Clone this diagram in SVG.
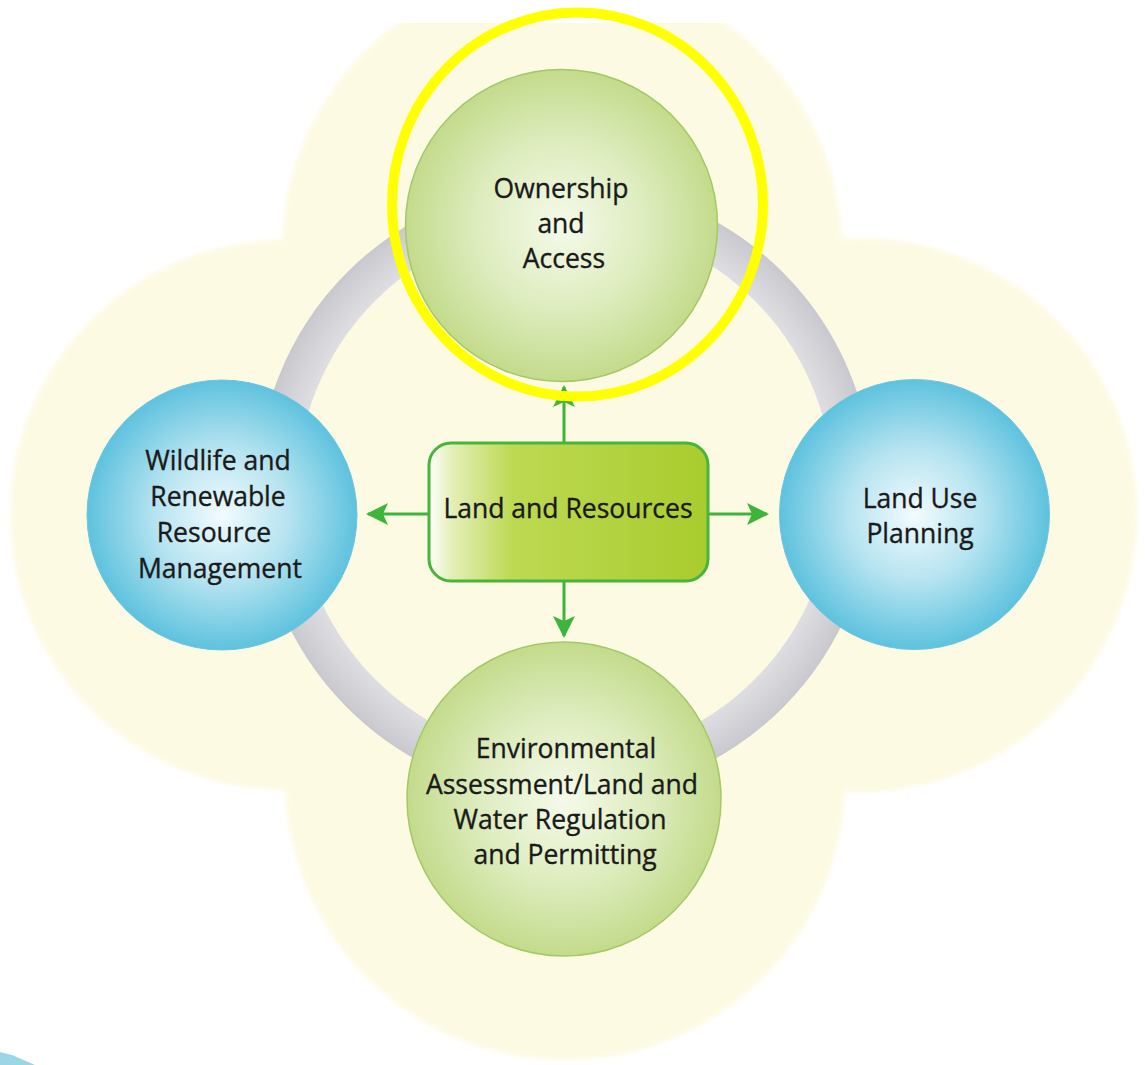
<svg xmlns="http://www.w3.org/2000/svg" width="1145" height="1065" viewBox="0 0 1145 1065">
  <defs>
    <radialGradient id="gGreen" cx="50%" cy="50%" r="50%">
      <stop offset="0" stop-color="#f5faea"/>
      <stop offset="0.55" stop-color="#ddecbd"/>
      <stop offset="1" stop-color="#c3db8c"/>
    </radialGradient>
    <radialGradient id="gBlue" cx="50%" cy="50%" r="50%">
      <stop offset="0" stop-color="#f2fbfe"/>
      <stop offset="0.5" stop-color="#b5e3f0"/>
      <stop offset="1" stop-color="#5ec2de"/>
    </radialGradient>
    <radialGradient id="gRing" gradientUnits="userSpaceOnUse" cx="565" cy="490" r="308">
      <stop offset="0.86" stop-color="#e0e0e4"/>
      <stop offset="0.93" stop-color="#d4d4d9"/>
      <stop offset="1" stop-color="#c8c8ce"/>
    </radialGradient>
    <linearGradient id="gBox" x1="0" y1="0" x2="1" y2="0">
      <stop offset="0" stop-color="#ffffff"/>
      <stop offset="0.08" stop-color="#e4efb8"/>
      <stop offset="0.3" stop-color="#bdd952"/>
      <stop offset="1" stop-color="#a9cc2e"/>
    </linearGradient>
    <clipPath id="bgClip">
      <rect x="0" y="23" width="1145" height="1042"/>
    </clipPath>
    <filter id="soft" x="-5%" y="-5%" width="110%" height="110%">
      <feGaussianBlur stdDeviation="2.5"/>
    </filter>
    <marker id="arrow" markerUnits="userSpaceOnUse" markerWidth="24" markerHeight="24" refX="20" refY="11" orient="auto">
      <path d="M0,0 L22,11 L0,22 L5,11 Z" fill="#3cb53a"/>
    </marker>
  </defs>
  <style>
    .lbl { font-family: "Open Sans", "Liberation Sans", sans-serif; font-size: 26.5px; fill: #1a1a1a; stroke: #1a1a1a; stroke-width: 0.35; text-anchor: middle; }
    .green { fill: url(#gGreen); stroke: #a3c966; stroke-width: 1.5; }
    .blue { fill: url(#gBlue); stroke: #6cc6df; stroke-width: 1; }
    .conn { stroke: #3cb53a; stroke-width: 3; fill: none; marker-end: url(#arrow); }
  </style>

  <rect x="0" y="0" width="1145" height="1065" fill="#ffffff"/>

  <!-- cream cloverleaf background -->
  <g id="background" clip-path="url(#bgClip)">
    <g filter="url(#soft)" fill="#fdfae3">
      <circle cx="562" cy="250" r="280"/>
      <circle cx="285" cy="515" r="275"/>
      <circle cx="860" cy="515" r="277"/>
      <circle cx="565" cy="780" r="280"/>
      <rect x="285" y="250" width="577" height="530"/>
    </g>
  </g>
  <path d="M0,1052 L12,1055 L35,1065 L0,1065 Z" fill="#9ad6e6"/>

  <!-- gray ring -->
  <circle id="ring" cx="565" cy="490" r="288" fill="none" stroke="url(#gRing)" stroke-width="40"/>

  <!-- connectors -->
  <g id="connectors">
    <line class="conn" x1="564" y1="443" x2="564" y2="387"/>
    <line class="conn" x1="564" y1="581" x2="564" y2="636"/>
    <line class="conn" x1="429" y1="514" x2="368" y2="514"/>
    <line class="conn" x1="708" y1="514" x2="767" y2="514"/>
  </g>

  <g id="node-ownership">
    <circle class="green" cx="561.5" cy="225.5" r="156"/>
    <text class="lbl" x="561" y="198">Ownership</text>
    <text class="lbl" x="561" y="233">and</text>
    <text class="lbl" x="564" y="268">Access</text>
  </g>

  <g id="node-wildlife">
    <circle class="blue" cx="222" cy="515" r="135"/>
    <text class="lbl" x="218" y="470">Wildlife and</text>
    <text class="lbl" x="218" y="506">Renewable</text>
    <text class="lbl" x="214" y="542">Resource</text>
    <text class="lbl" x="220" y="578">Management</text>
  </g>

  <g id="node-landuse">
    <circle class="blue" cx="914.5" cy="514.5" r="135"/>
    <text class="lbl" x="920" y="508">Land Use</text>
    <text class="lbl" x="920" y="543">Planning</text>
  </g>

  <g id="node-environmental">
    <circle class="green" cx="564" cy="799" r="157"/>
    <text class="lbl" x="566" y="758">Environmental</text>
    <text class="lbl" x="562" y="794">Assessment/Land and</text>
    <text class="lbl" x="560" y="829">Water Regulation</text>
    <text class="lbl" x="565" y="864">and Permitting</text>
  </g>

  <g id="node-land-resources">
    <rect x="429" y="443" width="279" height="138" rx="22" ry="22" fill="url(#gBox)" stroke="#46b53a" stroke-width="3"/>
    <text class="lbl" x="568" y="518">Land and Resources</text>
  </g>

  <!-- yellow highlight ellipse -->
  <ellipse id="highlight" cx="577.5" cy="204.5" rx="185.5" ry="192" fill="none" stroke="#ffff00" stroke-width="10"/>
</svg>
